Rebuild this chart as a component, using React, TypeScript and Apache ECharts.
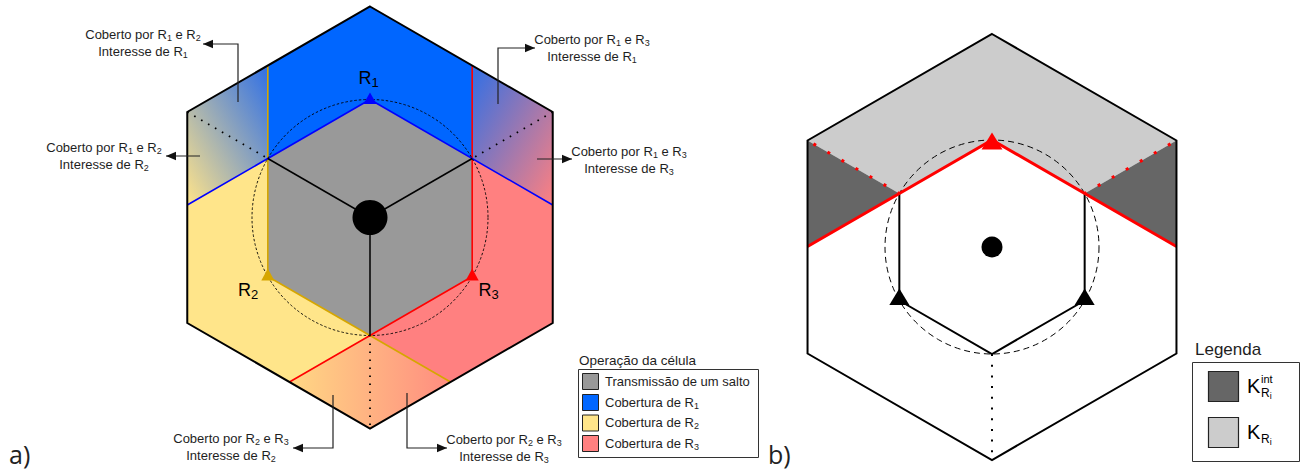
import React, { useEffect, useRef } from 'react';
import * as echarts from 'echarts';

const CANVAS_W = 1303;
const CANVAS_H = 472;

// ---- diagram data (diagram units map 1:1 onto the hidden value axes) ----
const CELL_CENTERS: number[][] = [[370, 217.5], [992, 247]];
const CELL_RADII: number[] = [211, 213];
const HOP_RADII: number[] = [118, 107];
const CORE_RADII: number[] = [17.5, 10.5];

const RELAY_IDS: string[] = ['1', '2', '3'];
const RELAY_LABEL_AT: number[][] = [[368.5, 78], [248, 290], [488.5, 290]];

const ANNOTATION_PAIRS: string[][] = [['1', '2'], ['1', '2'], ['1', '3'], ['1', '3'], ['2', '3'], ['2', '3']];
const ANNOTATION_INTEREST: string[] = ['1', '2', '1', '3', '2', '3'];
const ANNOTATION_PATHS: number[][][] = [
  [[238, 102], [238, 44], [203, 44]],
  [[200, 156], [166, 156]],
  [[498, 104], [498, 48], [535, 48]],
  [[537, 159], [572, 159]],
  [[333, 395], [333, 448], [293, 448]],
  [[407, 393], [407, 448], [447, 448]],
];
const ANNOTATION_TEXT_AT: number[][] = [[143, 34], [104, 147], [592, 39], [629, 151], [231, 438], [504, 439]];

const LEGEND_A_TITLE = 'Operação da célula';
const LEGEND_A_LABELS: string[][] = [
  ['Transmissão de um salto'],
  ['Cobertura de R', '1'],
  ['Cobertura de R', '2'],
  ['Cobertura de R', '3'],
];
const LEGEND_B_TITLE = 'Legenda';
const LEGEND_B_SUPERS: string[] = ['int', ''];
const PANEL_TAGS: string[] = ['a)', 'b)'];

// ---- styles ----
const FONT = '"Liberation Sans", Arial, Helvetica, sans-serif';
const TAG_FONT = '"Open Sans", "Noto Sans", sans-serif';
const TXT = '#1e1e1e';
const GRAY = '#999999';
const BLUE_FILL = '#0066ff';
const YELLOW_FILL = '#ffe58a';
const RED_FILL = '#ff8080';
const BLUE_LINE = '#0000ff';
const GOLD_LINE = '#d6a600';
const RED_LINE = '#ff0000';
const DARK_K = '#666666';
const LIGHT_K = '#cccccc';

const S30 = Math.tan(Math.PI / 6);
const C30 = Math.cos(Math.PI / 6);

function hexPts(cx: number, cy: number, R: number): number[][] {
  const out: number[][] = [];
  for (let k = 0; k < 6; k++) {
    const a = ((-90 + 60 * k) * Math.PI) / 180;
    out.push([cx + R * Math.cos(a), cy + R * Math.sin(a)]);
  }
  return out;
}

function rich(parts: string[]): string {
  return parts
    .map((p, i) => (p === '' ? '' : `{${i % 2 === 0 ? 'n' : 's'}|${p}}`))
    .join('');
}

function richStyle(size: number, sub: number, color: string) {
  return {
    n: { fontSize: size, fontFamily: FONT, fill: color, lineHeight: size + 3 },
    s: { fontSize: sub, fontFamily: FONT, fill: color, lineHeight: sub, verticalAlign: 'bottom' },
  };
}

export default function App() {
  const ref = useRef<HTMLDivElement>(null);

  useEffect(() => {
    document.body.style.margin = '0';
    if (!ref.current) return;
    const chart = echarts.init(ref.current, undefined, { renderer: 'svg' });

    const renderItem = (_params: any, api: any) => {
      const P = (p: number[]) => api.coord(p) as number[];
      const Pts = (a: number[][]) => a.map(P);
      const sz = (v: number) => api.size([v, 0])[0] as number;
      const kids: any[] = [];
      const poly = (pts: number[][], style: any) =>
        kids.push({ type: 'polygon', shape: { points: Pts(pts) }, style });
      const line = (pts: number[][], style: any) =>
        kids.push({ type: 'polyline', shape: { points: Pts(pts) }, style: { fill: 'none', ...style } });
      const circ = (c: number[], r: number, style: any) => {
        const q = P(c);
        kids.push({ type: 'circle', shape: { cx: q[0], cy: q[1], r: sz(r) }, style });
      };
      const text = (p: number[], parts: string[], size: number, sub: number, align: string, color = TXT) => {
        const q = P(p);
        kids.push({
          type: 'text',
          x: q[0],
          y: q[1],
          style: {
            text: rich(parts),
            rich: richStyle(size, sub, color),
            fontSize: size,
            fontFamily: FONT,
            fill: color,
            align,
            verticalAlign: 'middle',
            textAlign: align,
            textVerticalAlign: 'middle',
          },
        });
      };
      const tri = (v: number[], hw: number, up: number, down: number, fill: string) =>
        poly([[v[0], v[1] - up], [v[0] + hw, v[1] + down], [v[0] - hw, v[1] + down]], { fill, stroke: 'none' });
      const grad = (x: number, y: number, x2: number, y2: number, c0: string, c1: string) =>
        new echarts.graphic.LinearGradient(x, y, x2, y2, [
          { offset: 0, color: c0 },
          { offset: 1, color: c1 },
        ]);

      // ================= panel a =================
      {
        const [cx, cy] = CELL_CENTERS[0];
        const R = CELL_RADII[0];
        const r = HOP_RADII[0];
        const O = hexPts(cx, cy, R);
        const I = hexPts(cx, cy, r);
        const hw = R * C30;
        const iw = r * C30;
        const Al = [cx - iw, cy - R + iw * S30];
        const Ar = [cx + iw, cy - R + iw * S30];
        const Bl = [cx - hw, cy - r + hw * S30];
        const Br = [cx + hw, cy - r + hw * S30];
        const d = (R - r) / (2 * S30);
        const Cl = [cx - d, cy + r + d * S30];
        const Cr = [cx + d, cy + r + d * S30];
        const C = [cx, cy];

        poly([Al, O[0], Ar, I[1], I[0], I[5]], { fill: BLUE_FILL });
        poly([O[5], Al, I[5], Bl], { fill: grad(1, 0, 0, 1, '#2f6fe6', '#ffe48a') });
        poly([Ar, O[1], Br, I[1]], { fill: grad(0, 0, 1, 1, '#2f6fe6', '#ff8080') });
        poly([Bl, I[5], I[4], I[3], Cl, O[4]], { fill: YELLOW_FILL });
        poly([Br, I[1], I[2], I[3], Cr, O[2]], { fill: RED_FILL });
        poly([Cl, I[3], Cr, O[3]], { fill: grad(0, 0.5, 1, 0.5, '#ffd884', '#ff8c80') });
        poly(I, { fill: GRAY });

        const dotted = { stroke: '#000', lineWidth: 1.8, lineDash: [1.6, 6.4] };
        line([O[5], I[5]], dotted);
        line([O[1], I[1]], dotted);
        line([I[3], O[3]], dotted);

        line([Al, I[4], I[3], Cr], { stroke: GOLD_LINE, lineWidth: 1.6 });
        line([Ar, I[2], I[3], Cl], { stroke: RED_LINE, lineWidth: 1.6 });
        line([Bl, I[0], Br], { stroke: BLUE_LINE, lineWidth: 1.6 });

        line([C, I[5]], { stroke: '#000', lineWidth: 1.5 });
        line([C, I[1]], { stroke: '#000', lineWidth: 1.5 });
        line([C, I[3]], { stroke: '#000', lineWidth: 1.5 });

        circ(C, r, { fill: 'none', stroke: '#000', lineWidth: 0.9, lineDash: [2.5, 2] });
        circ(C, CORE_RADII[0], { fill: '#000' });

        poly(O, { fill: 'none', stroke: '#000', lineWidth: 2, lineJoin: 'miter' });

        tri(I[0], 6.5, 7, 4.5, BLUE_LINE);
        tri(I[4], 6.5, 8, 4, GOLD_LINE);
        tri(I[2], 6.5, 8, 4, RED_LINE);

        RELAY_IDS.forEach((id, i) => text(RELAY_LABEL_AT[i], ['R', id], 18, 13, 'center', '#000'));
      }

      // annotations
      ANNOTATION_PATHS.forEach((path, i) => {
        line(path, { stroke: '#222', lineWidth: 1.2 });
        const tip = path[path.length - 1];
        const prev = path[path.length - 2];
        const dx = tip[0] - prev[0];
        const dy = tip[1] - prev[1];
        const len = Math.hypot(dx, dy);
        const ux = dx / len;
        const uy = dy / len;
        const L = 10;
        const w = 4.2;
        poly(
          [tip, [tip[0] - ux * L - uy * w, tip[1] - uy * L + ux * w], [tip[0] - ux * L + uy * w, tip[1] - uy * L - ux * w]],
          { fill: '#111', stroke: 'none' }
        );
        const [a, b] = ANNOTATION_PAIRS[i];
        const t = ANNOTATION_TEXT_AT[i];
        text(t, ['Coberto por R', a, ' e R', b], 13, 9, 'center');
        text([t[0], t[1] + 17], ['Interesse de R', ANNOTATION_INTEREST[i]], 13, 9, 'center');
      });

      // legend a
      {
        text([579, 360], [LEGEND_A_TITLE], 13.5, 9, 'left');
        const q0 = P([578, 369]);
        const q1 = P([758, 457]);
        kids.push({
          type: 'rect',
          shape: { x: q0[0] + 0.5, y: q0[1] + 0.5, width: q1[0] - q0[0], height: q1[1] - q0[1] },
          style: { fill: '#fff', stroke: '#333', lineWidth: 1 },
        });
        const fills = [GRAY, BLUE_FILL, YELLOW_FILL, RED_FILL];
        const rows = [381, 402, 422.5, 443];
        LEGEND_A_LABELS.forEach((parts, i) => {
          const a = P([582, rows[i] - 8]);
          kids.push({
            type: 'rect',
            shape: { x: a[0] + 0.5, y: a[1] + 0.5, width: sz(16), height: sz(16) },
            style: { fill: fills[i], stroke: '#222', lineWidth: 1 },
          });
          text([605, rows[i]], parts, 13, 9, 'left');
        });
      }

      // ================= panel b =================
      {
        const [cx, cy] = CELL_CENTERS[1];
        const R = CELL_RADII[1];
        const r = HOP_RADII[1];
        const O = hexPts(cx, cy, R);
        const I = hexPts(cx, cy, r);
        const hw = R * C30;
        const Dl = [cx - hw, cy - r + hw * S30];
        const Dr = [cx + hw, cy - r + hw * S30];
        const C = [cx, cy];

        poly(O, { fill: '#fff' });
        poly([O[5], O[0], O[1], I[1], I[0], I[5]], { fill: LIGHT_K });
        poly([O[5], I[5], Dl], { fill: DARK_K });
        poly([O[1], I[1], Dr], { fill: DARK_K });

        line([I[5], O[5]], { stroke: RED_LINE, lineWidth: 3, lineDash: [3, 13.2], lineDashOffset: 1.2 });
        line([I[1], O[1]], { stroke: RED_LINE, lineWidth: 3, lineDash: [3, 13.2], lineDashOffset: 1.2 });

        line([I[5], I[4], I[3], I[2], I[1]], { stroke: '#000', lineWidth: 2 });
        line([I[3], O[3]], { stroke: '#000', lineWidth: 2, lineDash: [2, 8.7] });
        circ(C, r, { fill: 'none', stroke: '#000', lineWidth: 1, lineDash: [6, 4] });
        line([Dl, I[0], Dr], { stroke: RED_LINE, lineWidth: 3 });
        circ(C, CORE_RADII[1], { fill: '#000' });

        poly(O, { fill: 'none', stroke: '#000', lineWidth: 2, lineJoin: 'miter' });

        tri(I[0], 10.5, 7.5, 9.5, RED_LINE);
        tri(I[4], 10, 12, 4.5, '#000');
        tri(I[2], 10, 12, 4.5, '#000');
      }

      // legend b
      {
        text([1195, 349], [LEGEND_B_TITLE], 17, 10, 'left');
        const q0 = P([1192, 362]);
        const q1 = P([1299, 461]);
        kids.push({
          type: 'rect',
          shape: { x: q0[0] + 0.5, y: q0[1] + 0.5, width: q1[0] - q0[0], height: q1[1] - q0[1] },
          style: { fill: '#fff', stroke: '#333', lineWidth: 1 },
        });
        const fills = [DARK_K, LIGHT_K];
        const rows = [386, 432];
        LEGEND_B_SUPERS.forEach((sup, i) => {
          const a = P([1208, rows[i] - 15]);
          kids.push({
            type: 'rect',
            shape: { x: a[0] + 0.5, y: a[1] + 0.5, width: sz(30), height: sz(30) },
            style: { fill: fills[i], stroke: '#222', lineWidth: 1.2 },
          });
          text([1247, rows[i]], ['K'], 20, 12, 'left', '#000');
          if (sup) text([1261, rows[i] - 7], [sup], 11, 8, 'left', '#000');
          text([1261, rows[i] + 7], ['R', 'i'], 12, 9, 'left', '#000');
        });
      }

      // panel tags
      PANEL_TAGS.forEach((tag, i) => {
        const q = P([i === 0 ? 9 : 768, 454]);
        kids.push({
          type: 'text',
          x: q[0],
          y: q[1],
          style: {
            text: tag,
            fontSize: 25,
            fontFamily: TAG_FONT,
            fill: '#222',
            align: 'left',
            verticalAlign: 'middle',
            textAlign: 'left',
            textVerticalAlign: 'middle',
          },
        });
      });

      return { type: 'group', children: kids };
    };

    chart.setOption({
      animation: false,
      backgroundColor: '#ffffff',
      grid: { left: 0, right: 0, top: 0, bottom: 0 },
      xAxis: { type: 'value', min: 0, max: CANVAS_W, show: false },
      yAxis: { type: 'value', min: 0, max: CANVAS_H, inverse: true, show: false },
      series: [
        {
          type: 'custom',
          coordinateSystem: 'cartesian2d',
          clip: false,
          silent: true,
          data: [[0, 0]],
          renderItem,
        },
      ],
    });

    return () => chart.dispose();
  }, []);

  return <div ref={ref} style={{ width: CANVAS_W, height: CANVAS_H }} />;
}
